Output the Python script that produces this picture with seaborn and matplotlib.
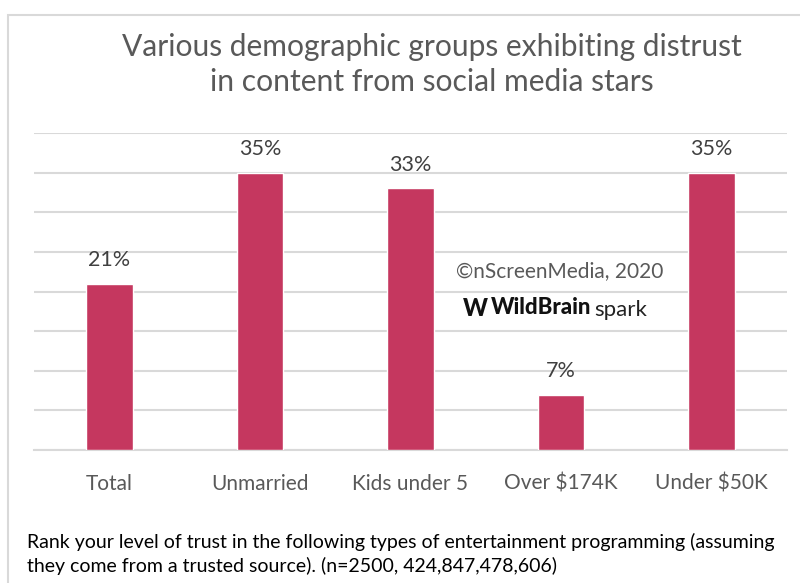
import matplotlib
matplotlib.use("Agg")
import matplotlib.pyplot as plt
from matplotlib.patches import Rectangle
import seaborn as sns
import pandas as pd

groups = ["Total", "Unmarried", "Kids under 5", "Over $174K", "Under $50K"]
distrust_pct = [21, 35, 33, 7, 35]
title_lines = ["Various demographic groups exhibiting distrust", "in content from social media stars"]
footnote = ("Rank your level of trust in the following types of entertainment programming (assuming\n"
            "they come from a trusted source). (n=2500, 424,847,478,606)")
credit = "©nScreenMedia, 2020"

sns.set_theme(style="white")
plt.rcParams["font.family"] = ["Lato", "DejaVu Sans"]

df = pd.DataFrame({"group": groups, "pct": distrust_pct})

W, H = 800, 583
fig = plt.figure(figsize=(W / 100, H / 100), dpi=100)
ax = fig.add_axes([34 / W, 1 - 450 / H, (787 - 34) / W, (450 - 133) / H])

bar_color = "#C5375F"
sns.barplot(data=df, x="group", y="pct", color=bar_color, width=0.31,
            saturation=1, ax=ax, zorder=3)

ax.set_ylim(0, 40)
ax.set_yticks(range(0, 41, 5))
ax.yaxis.grid(True, color="#D9D9D9", linewidth=1.5, zorder=0)
ax.set_yticklabels([])
ax.tick_params(axis="y", length=0)
ax.tick_params(axis="x", length=0, pad=17, labelsize=15, labelcolor="#595959")
ax.set_xlabel("")
ax.set_ylabel("")
for s in ["top", "right", "left"]:
    ax.spines[s].set_visible(False)
ax.spines["bottom"].set_color("#D9D9D9")
ax.spines["bottom"].set_linewidth(1.5)

for i, v in enumerate(distrust_pct):
    ax.annotate(f"{v}%", (i, v), xytext=(0, 10), textcoords="offset points",
                ha="center", va="bottom", fontsize=15.5, color="#404040")

# frame around the whole graphic
fig.patches.append(Rectangle((8 / W, -0.1), 1.1, 1 - 15 / H + 0.1, transform=fig.transFigure,
                             fill=False, edgecolor="#D9D9D9", linewidth=1.5))

fig.text(432 / W, 1 - 47 / H, title_lines[0], ha="center", va="center",
         fontsize=21.6, color="#595959")
fig.text(432 / W, 1 - 82 / H, title_lines[1], ha="center", va="center",
         fontsize=21.6, color="#595959")

fig.text(560 / W, 1 - 271 / H, credit, ha="center", va="center",
         fontsize=15, color="#595959")
# WildBrain spark logo
fig.text(475 / W, 1 - 308 / H, "W", ha="center", va="center",
         fontsize=17, color="#111111", fontweight="black")
fig.text(491 / W, 1 - 308 / H, "WildBrain", ha="left", va="center",
         fontsize=16, color="#111111", fontweight="black")
fig.text(594 / W, 1 - 310 / H, "spark", ha="left", va="center",
         fontsize=16, color="#222222")

fig.text(27 / W, 1 - 554 / H, footnote, ha="left", va="center",
         fontsize=14, color="#000000", linespacing=1.45)

fig.savefig("out.png", dpi=100)
